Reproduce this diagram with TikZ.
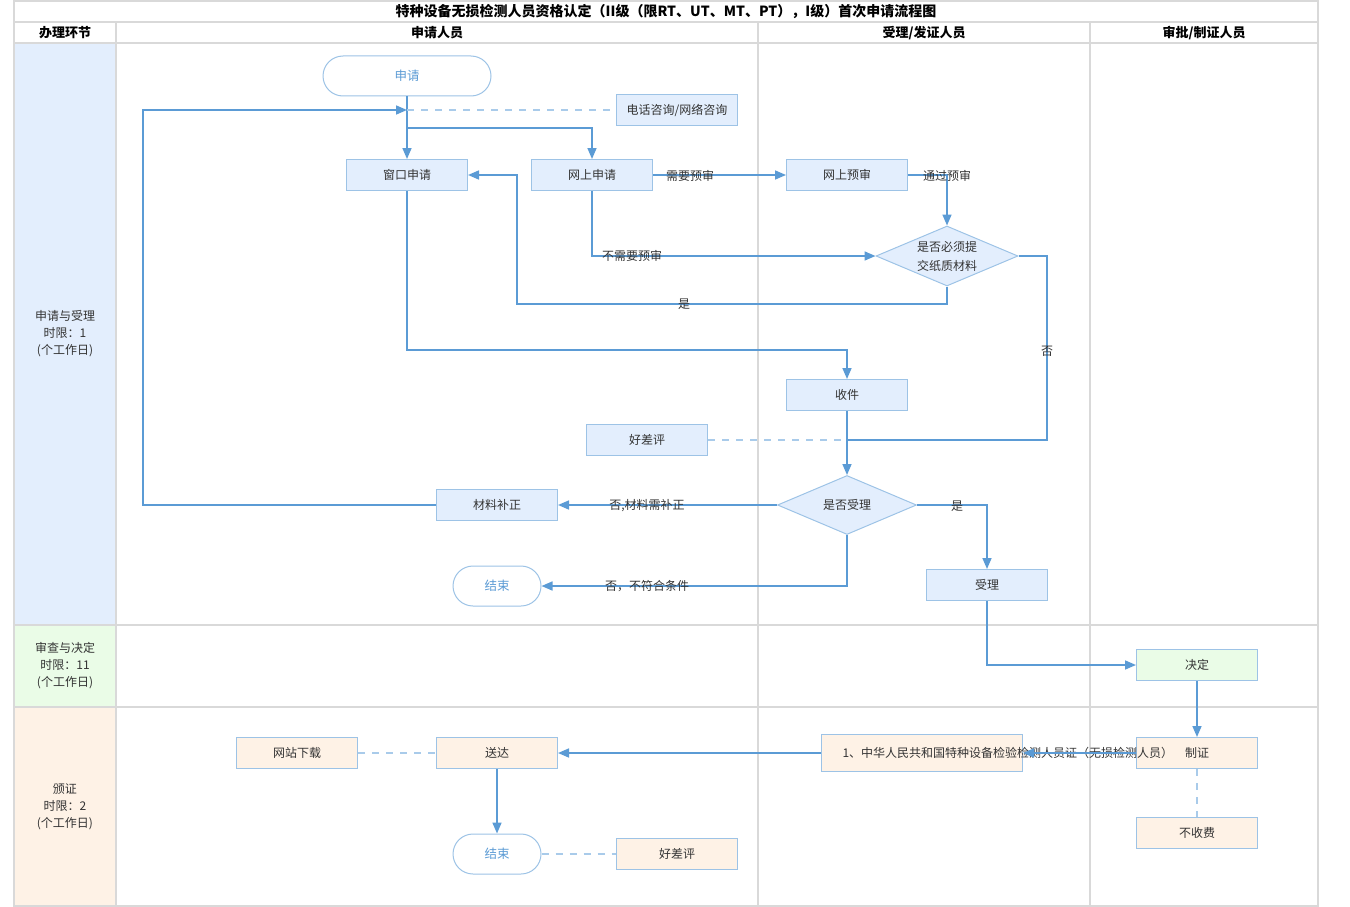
\documentclass[tikz,border=0pt]{standalone}
\usepackage{fontspec}
\setmainfont{Noto Sans CJK SC}
\usetikzlibrary{arrows.meta,shapes.geometric}
\definecolor{lineb}{HTML}{5B9BD5}
\definecolor{nodeb}{HTML}{9DC3E6}
\definecolor{dashb}{HTML}{A9CBEA}
\definecolor{bluef}{HTML}{E3EEFD}
\definecolor{greenf}{HTML}{EAFCE7}
\definecolor{orangef}{HTML}{FEF2E6}
\definecolor{gridg}{HTML}{D9D9D9}
\definecolor{txt}{HTML}{333333}
\tikzset{
  x=1pt, y=-1pt,
  fs/.style={font=\fontsize{12}{17}\selectfont},
  box/.style={fs, draw=nodeb, fill=#1, line width=1pt, minimum width=121pt, minimum height=31pt, inner sep=0pt, text=txt},
  term/.style={font=\fontsize{12.5}{15}\selectfont, draw=nodeb, fill=white, line width=1pt, rounded corners=20pt, minimum height=40pt, inner sep=0pt, text=lineb},
  dia/.style={font=\fontsize{12}{19}\selectfont, diamond, aspect=2.37, draw=nodeb, fill=bluef, line width=1pt, inner sep=0pt, text=txt, align=center},
  lbl/.style={fs, text=txt, inner sep=0pt},
  conn/.style={draw=lineb, line width=1.6pt, -{Triangle[length=11pt,width=9pt]}},
  plain/.style={draw=lineb, line width=1.6pt},
  dsh/.style={draw=dashb, line width=1.5pt, dash pattern=on 7pt off 7pt},
  grid/.style={draw=gridg, line width=1.6pt},
  lane/.style={fs, text=txt, align=center, inner sep=0pt},
  head/.style={font=\fontsize{13}{15}\selectfont\bfseries, text=black, inner sep=0pt}
}
\begin{document}
\begin{tikzpicture}
\useasboundingbox (0,0) rectangle (1350,907);
% lane fills
\fill[bluef] (14,43) rectangle (116,625);
\fill[greenf] (14,625) rectangle (116,707);
\fill[orangef] (14,707) rectangle (116,906);
% grid
\draw[grid] (14,1) rectangle (1318,906);
\draw[grid] (14,22) -- (1318,22);
\draw[grid] (14,43) -- (1318,43);
\draw[grid] (14,625) -- (1318,625);
\draw[grid] (14,707) -- (1318,707);
\draw[grid] (116,22) -- (116,906);
\draw[grid] (758,22) -- (758,906);
\draw[grid] (1090,22) -- (1090,906);
% headings
\node[head, font=\fontsize{14}{15}\selectfont\bfseries] (title) at (666,12) {特种设备无损检测人员资格认定（II级（限RT、UT、MT、PT），I级）首次申请流程图};
\node[head] (h1) at (65,33) {办理环节};
\node[head] (h2) at (437,33) {申请人员};
\node[head] (h3) at (924,33) {受理/发证人员};
\node[head] (h4) at (1204,33) {审批/制证人员};
\node[lane] (l1) at (65,334) {申请与受理\\时限：1\\(个工作日)};
\node[lane] (l2) at (65,666) {审查与决定\\时限：11\\(个工作日)};
\node[lane] (l3) at (65,807) {颁证\\时限：2\\(个工作日)};
% nodes
\node[term, minimum width=168pt] (start) at (407,76) {申请};
\node[box=bluef] (consult) at (677,110) {电话咨询/网络咨询};
\node[box=bluef] (win) at (407,175) {窗口申请};
\node[box=bluef] (web) at (592,175) {网上申请};
\node[box=bluef] (pre) at (847,175) {网上预审};
\node[dia, minimum width=142pt, minimum height=60pt] (paper) at (947,256) {是否必须提\\交纸质材料};
\node[box=bluef] (recv) at (847,395) {收件};
\node[box=bluef] (eval1) at (647,440) {好差评};
\node[dia, minimum width=139pt, minimum height=59pt] (acc) at (847,505) {是否受理};
\node[box=bluef] (fix) at (497,505) {材料补正};
\node[term, minimum width=88pt] (end1) at (497,586) {结束};
\node[box=bluef] (accept) at (987,585) {受理};
\node[box=greenf] (decide) at (1197,665) {决定};
\node[box=orangef] (make) at (1197,753) {制证};
\node[box=orangef] (free) at (1197,833) {不收费};
\node[box=orangef, minimum width=201pt, minimum height=37pt] (cert) at (922,753) {\makebox[181pt][l]{\hspace{11pt}1、中华人民共和国特种设备检验检测人员证（无损检测人员）}};
\node[box=orangef] (send) at (497,753) {送达};
\node[box=orangef] (down) at (297,753) {网站下载};
\node[term, minimum width=88pt] (end2) at (497,854) {结束};
\node[box=orangef] (eval2) at (677,854) {好差评};
% helper coordinates
\coordinate (merge) at (407,110);
\coordinate (split) at (407,128);
\coordinate (loopc) at (143,110);
\coordinate (yesc) at (517,304);
\coordinate (noc) at (1047,440);
\coordinate (join) at (847,440);
\coordinate (winc) at (847,350);
% connectors
\draw[conn] (start.south) -- (win.north);
\draw[conn] (split) -| (web.north);
\draw[dsh] (merge) -- (consult.west);
\draw[conn] (fix.west) -| (loopc) -- (merge);
\draw[conn] (web.east) -- (pre.west);
\draw[conn] (pre.east) -| (paper.north);
\draw[conn] (web.south) |- (paper.west);
\draw[conn] (paper.south) |- (yesc) |- (win.east);
\draw[plain] (paper.east) -| (noc) -- (join);
\draw[conn] (win.south) |- (winc) -- (recv.north);
\draw[conn] (recv.south) -- (acc.north);
\draw[dsh] (eval1.east) -- (join);
\draw[conn] (acc.west) -- (fix.east);
\draw[conn] (acc.south) |- (end1.east);
\draw[conn] (acc.east) -| (accept.north);
\draw[conn] (accept.south) |- (decide.west);
\draw[conn] (decide.south) -- (make.north);
\draw[conn] (make.west) -- (cert.east);
\draw[conn] (cert.west) -- (send.east);
\draw[dsh] (down.east) -- (send.west);
\draw[conn] (send.south) -- (end2.north);
\draw[dsh] (end2.east) -- (eval2.west);
\draw[dsh] (make.south) -- (free.north);
% connector labels
\node[lbl] (t1) at (690,176) {需要预审};
\node[lbl] (t2) at (947,176) {通过预审};
\node[lbl] (t3) at (632,256) {不需要预审};
\node[lbl] (t4) at (684,304) {是};
\node[lbl] (t5) at (1047,351) {否};
\node[lbl] (t6) at (647,506) {否,材料需补正};
\node[lbl] (t7) at (647,586) {否，不符合条件};
\node[lbl] (t8) at (957,506) {是};
\end{tikzpicture}
\end{document}
